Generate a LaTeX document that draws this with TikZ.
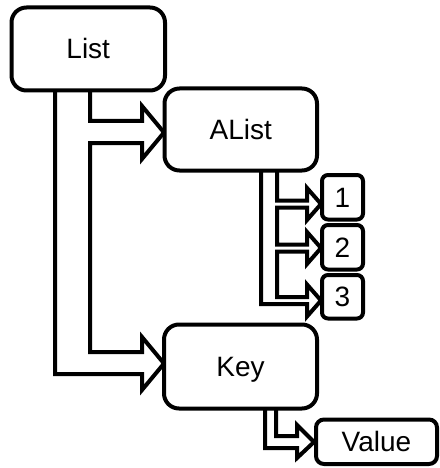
\documentclass[tikz,border=0pt]{standalone}
\usepackage{fontspec}
\setmainfont{Liberation Sans}
\begin{document}
\begin{tikzpicture}[x=1pt,y=-1pt,
  box/.style={draw, line width=4pt, fill=white, rounded corners=#1, inner sep=0pt,
    font=\fontsize{28}{30}\selectfont, text height=20pt, text depth=0pt},
  box/.default=15pt,
  hollow/.style={draw, line width=4pt, fill=white, line join=miter}]
\useasboundingbox (0,0) rectangle (439,468);

% hollow connectors (drawn first, boxes cover their ends)
\draw[hollow] (55,90.5) -- (55,374) -- (142,374) -- (142,390) -- (164,363.5) -- (142,337)
  -- (142,352) -- (90,352) -- (90,143) -- (142,143) -- (142,159) -- (164,132.5)
  -- (142,106) -- (142,121) -- (90,121) -- (90,90.5);

\draw[hollow] (261,170.5) -- (261,304) -- (307,304) -- (307,316.5) -- (321,300.5)
  -- (307,284.5) -- (307,297) -- (277,297) -- (277,251.5) -- (307,251.5) -- (307,264)
  -- (321,248) -- (307,232) -- (307,244.5) -- (277,244.5) -- (277,207.5) -- (307,207.5)
  -- (307,220) -- (321,204) -- (307,188) -- (307,200.5) -- (277,200.5) -- (277,170.5);

\draw[hollow] (265,408.5) -- (265,448) -- (297,448) -- (297,458) -- (314,442)
  -- (297,425) -- (297,436) -- (276,436) -- (276,408.5);

% boxes
\node[box, minimum width=153.5pt, minimum height=83pt] (list) at (88.25,49) {List};
\node[box, minimum width=152.5pt, minimum height=82pt] (alist) at (240.75,129.5) {AList};
\node[box, minimum width=153pt, minimum height=84pt] (key) at (240.5,366.5) {Key};
\node[box=8pt, minimum width=121pt, minimum height=44.5pt] (value) at (376.5,441.75) {Value};
\node[box=6pt, minimum width=41pt, minimum height=44.5pt] (one) at (342.5,197.25) {1};
\node[box=6pt, minimum width=41pt, minimum height=44.5pt] (two) at (342.5,247.25) {2};
\node[box=6pt, minimum width=41pt, minimum height=43.5pt] (three) at (342.5,296.75) {3};
\end{tikzpicture}
\end{document}
